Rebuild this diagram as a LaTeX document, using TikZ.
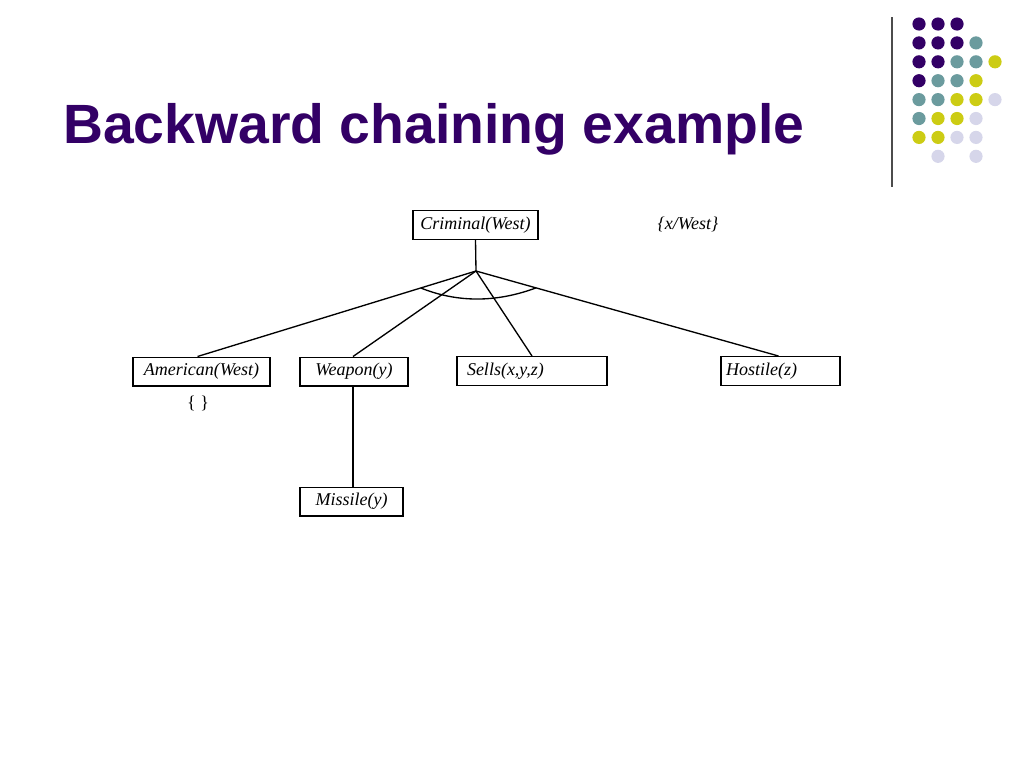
\documentclass[tikz,border=0pt]{standalone}
\usepackage{fontspec}
\setmainfont{Liberation Serif}
\newfontfamily\titlefont{Liberation Sans}
\usepackage{tikz}
\definecolor{slidePurple}{HTML}{330066}
\definecolor{dotTeal}{HTML}{6B9B9E}
\definecolor{dotYellow}{HTML}{CCCC14}
\definecolor{dotLilac}{HTML}{D6D6EA}
\tikzset{
  goalbox/.style={draw, line width=1pt, inner sep=0pt, minimum height=21.5pt,
    font=\fontsize{13.5}{16}\selectfont\itshape},
  goaltxt/.style={inner sep=0.75pt, font=\fontsize{13.5}{16}\selectfont\itshape},
  link/.style={line width=1pt}
}

\begin{document}
\begin{tikzpicture}[x=0.75pt,y=0.75pt,yscale=-1,xscale=1]
\useasboundingbox (0,0) rectangle (1024,768);

% Title
\node[anchor=base west, inner sep=0pt, text=slidePurple,
  font=\titlefont\bfseries\fontsize{41.5}{48}\selectfont] (title) at (63,143) {Backward chaining example};

% Decoration dots
\foreach \cx/\cy/\cc in {0/0/slidePurple,1/0/slidePurple,2/0/slidePurple,
  0/1/slidePurple,1/1/slidePurple,2/1/slidePurple,3/1/dotTeal,
  0/2/slidePurple,1/2/slidePurple,2/2/dotTeal,3/2/dotTeal,4/2/dotYellow,
  0/3/slidePurple,1/3/dotTeal,2/3/dotTeal,3/3/dotYellow,
  0/4/dotTeal,1/4/dotTeal,2/4/dotYellow,3/4/dotYellow,4/4/dotLilac,
  0/5/dotTeal,1/5/dotYellow,2/5/dotYellow,3/5/dotLilac,
  0/6/dotYellow,1/6/dotYellow,2/6/dotLilac,3/6/dotLilac,
  1/7/dotLilac,3/7/dotLilac}
  \fill[\cc] (919+19*\cx,24+18.9*\cy) circle (6.6);
% Divider
\draw[line width=1pt, black!70] (892,17) -- (892,187);

% Goal nodes
\node[goalbox, minimum width=93.75pt] (crim) at (475.5,225) {Criminal(West)};
\node[goaltxt] (subst) at (688,224) {\{x/West\}};
\node[goalbox, minimum width=102.75pt] (amer) at (201.5,371.5) {American(West)};
\node[goaltxt, font=\fontsize{13.5}{16}\selectfont] (empty) at (198,403) {\{ \}};
\node[goalbox, minimum width=81pt] (weap) at (354,371.5) {Weapon(y)};
\node[goalbox, minimum width=112.5pt, text width=97.5pt, align=left] (sells) at (532,371) {Sells(x,y,z)};
\node[goalbox, minimum width=89.25pt, text width=81.75pt, align=left] (host) at (780.5,371) {Hostile(z)};
\node[goalbox, minimum width=77.25pt] (miss) at (351.5,501.5) {Missile(y)};

% Connections
\coordinate (hub) at (476,271);
\coordinate (arcL) at (420.8,288);
\coordinate (arcR) at (535.7,288);
\draw[link] (crim.south) -- (hub);
\draw[link] (hub) -- ([xshift=-3pt]amer.north);
\draw[link] (hub) -- ([xshift=-0.75pt]weap.north);
\draw[link] (hub) -- (sells.north);
\draw[link] (hub) -- ([xshift=-1.5pt]host.north);
\draw[link] (arcL) .. controls (457.6,302.7) and (495.9,302.7) .. (arcR);
\draw[link] ([xshift=-0.75pt]weap.south) -- ([xshift=-0.75pt]weap.south |- miss.north);

\end{tikzpicture}
\end{document}
